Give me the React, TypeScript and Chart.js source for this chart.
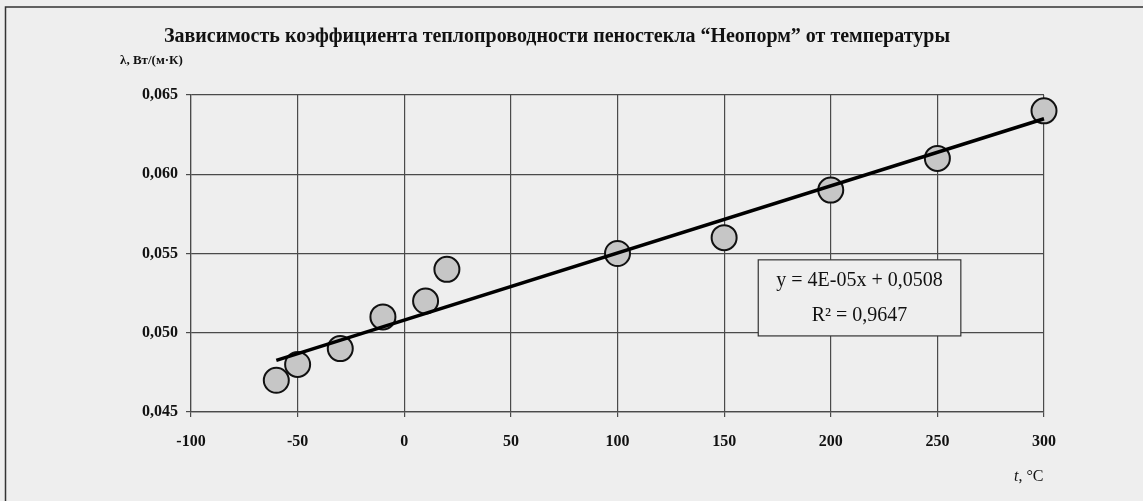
import React, { useEffect, useRef } from "react";
import { Chart, registerables } from "chart.js";

Chart.register(...registerables);

// ---- data ----
const temperatures = [-60, -50, -30, -10, 10, 20, 100, 150, 200, 250, 300];
const conductivity = [0.047, 0.048, 0.049, 0.051, 0.052, 0.054, 0.055, 0.056, 0.059, 0.061, 0.064];
const xRange = [-100, 300];
const xStep = 50;
const yRange = [0.045, 0.065];
const yStep = 0.005;
const titleText = "Зависимость коэффициента теплопроводности пеностекла “Неопорм” от температуры";
const yAxisLabel = "λ, Вт/(м·К)";
const xAxisLabelParts = ["t", ", °C"];
const equationLines = ["y = 4E-05x + 0,0508", "R² = 0,9647"];
// box corners anchored in data units: [x, y]
const equationBoxFrom = [166, 0.0546];
const equationBoxTo = [261, 0.0498];

// least-squares linear trendline from the data
function linearFit(xs: number[], ys: number[]) {
  const n = xs.length;
  const mx = xs.reduce((a, b) => a + b, 0) / n;
  const my = ys.reduce((a, b) => a + b, 0) / n;
  let sxy = 0;
  let sxx = 0;
  for (let i = 0; i < n; i++) {
    sxy += (xs[i] - mx) * (ys[i] - my);
    sxx += (xs[i] - mx) * (xs[i] - mx);
  }
  const slope = sxy / sxx;
  return { slope, intercept: my - slope * mx };
}

const BG = "#eeeeee";
const SERIF = '"Liberation Serif", "DejaVu Serif", serif';

const decorPlugin = {
  id: "decor",
  afterDraw(chart: any) {
    const ctx = chart.ctx as CanvasRenderingContext2D;
    const xs = chart.scales.x;
    const ys = chart.scales.y;
    ctx.save();
    // outer frame (left and top)
    ctx.strokeStyle = "#333";
    ctx.lineWidth = 1.5;
    ctx.beginPath();
    ctx.moveTo(5.5, chart.height);
    ctx.lineTo(5.5, 7);
    ctx.lineTo(chart.width, 7);
    ctx.stroke();

    // title
    ctx.fillStyle = "#111";
    ctx.font = `bold 20px ${SERIF}`;
    ctx.textAlign = "center";
    ctx.textBaseline = "middle";
    ctx.fillText(titleText, 557, 37);

    // y axis label
    ctx.font = `bold 13px ${SERIF}`;
    ctx.textAlign = "left";
    ctx.fillText(yAxisLabel, 120, 61);

    // x axis label
    ctx.textBaseline = "alphabetic";
    ctx.font = `italic 16px ${SERIF}`;
    const tW = ctx.measureText(xAxisLabelParts[0]).width;
    const startX = 1014;
    ctx.fillText(xAxisLabelParts[0], startX, 481);
    ctx.font = `16px ${SERIF}`;
    ctx.fillText(xAxisLabelParts[1], startX + tW, 481);

    // equation box
    const bx1 = xs.getPixelForValue(equationBoxFrom[0]);
    const by1 = ys.getPixelForValue(equationBoxFrom[1]);
    const bx2 = xs.getPixelForValue(equationBoxTo[0]);
    const by2 = ys.getPixelForValue(equationBoxTo[1]);
    ctx.fillStyle = BG;
    ctx.fillRect(bx1, by1, bx2 - bx1, by2 - by1);
    ctx.strokeStyle = "#333";
    ctx.lineWidth = 1.2;
    ctx.strokeRect(bx1, by1, bx2 - bx1, by2 - by1);
    ctx.fillStyle = "#111";
    ctx.font = `20px ${SERIF}`;
    ctx.textAlign = "center";
    ctx.textBaseline = "alphabetic";
    const cx = (bx1 + bx2) / 2;
    const h = by2 - by1;
    ctx.fillText(equationLines[0], cx, by1 + h * 0.34);
    ctx.fillText(equationLines[1], cx, by1 + h * 0.81);
    ctx.restore();
  },
};

export default function App() {
  const canvasRef = useRef<HTMLCanvasElement | null>(null);

  useEffect(() => {
    if (!canvasRef.current) return;
    const fit = linearFit(temperatures, conductivity);
    const xMin = Math.min(...temperatures);
    const xMax = Math.max(...temperatures);
    const trend = [
      { x: xMin, y: fit.slope * xMin + fit.intercept },
      { x: xMax, y: fit.slope * xMax + fit.intercept },
    ];
    const points = temperatures.map((t, i) => ({ x: t, y: conductivity[i] }));

    const chart = new Chart(canvasRef.current, {
      type: "scatter",
      data: {
        datasets: [
          {
            type: "line",
            data: trend,
            borderColor: "#000",
            borderWidth: 3.5,
            pointRadius: 0,
            fill: false,
            clip: false,
          } as any,
          {
            data: points,
            pointRadius: 12.5,
            pointHoverRadius: 12.5,
            backgroundColor: "#c6c6c6",
            borderColor: "#111",
            borderWidth: 2,
            clip: false,
          } as any,
        ],
      },
      options: {
        animation: false,
        responsive: true,
        maintainAspectRatio: false,
        events: [],
        layout: { padding: { left: 0, top: 95, right: 99, bottom: 39 } },
        plugins: { legend: { display: false }, tooltip: { enabled: false }, title: { display: false } },
        scales: {
          x: {
            type: "linear",
            min: xRange[0],
            max: xRange[1],
            afterFit: (s: any) => {
              s.height = 50;
            },
            ticks: {
              stepSize: xStep,
              color: "#111",
              font: { family: SERIF, size: 16, weight: "bold" },
              padding: 15,
              maxRotation: 0,
            },
            grid: { color: "#4a4a4a", lineWidth: 1.2, tickLength: 5, drawTicks: true },
            border: { color: "#4a4a4a", width: 1.2 },
          },
          y: {
            type: "linear",
            min: yRange[0],
            max: yRange[1],
            afterFit: (s: any) => {
              s.width = 191;
            },
            ticks: {
              stepSize: yStep,
              color: "#111",
              font: { family: SERIF, size: 16, weight: "bold" },
              padding: 8,
              callback: (v: any) => Number(v).toFixed(3).replace(".", ","),
            },
            grid: { color: "#4a4a4a", lineWidth: 1.2, tickLength: 5 },
            border: { color: "#4a4a4a", width: 1.2 },
          },
        },
      },
      plugins: [decorPlugin],
    });
    return () => chart.destroy();
  }, []);

  return (
    <div
      style={{
        position: "fixed",
        left: 0,
        top: 0,
        width: 1143,
        height: 501,
        background: BG,
      }}
    >
      <canvas ref={canvasRef} />
    </div>
  );
}
